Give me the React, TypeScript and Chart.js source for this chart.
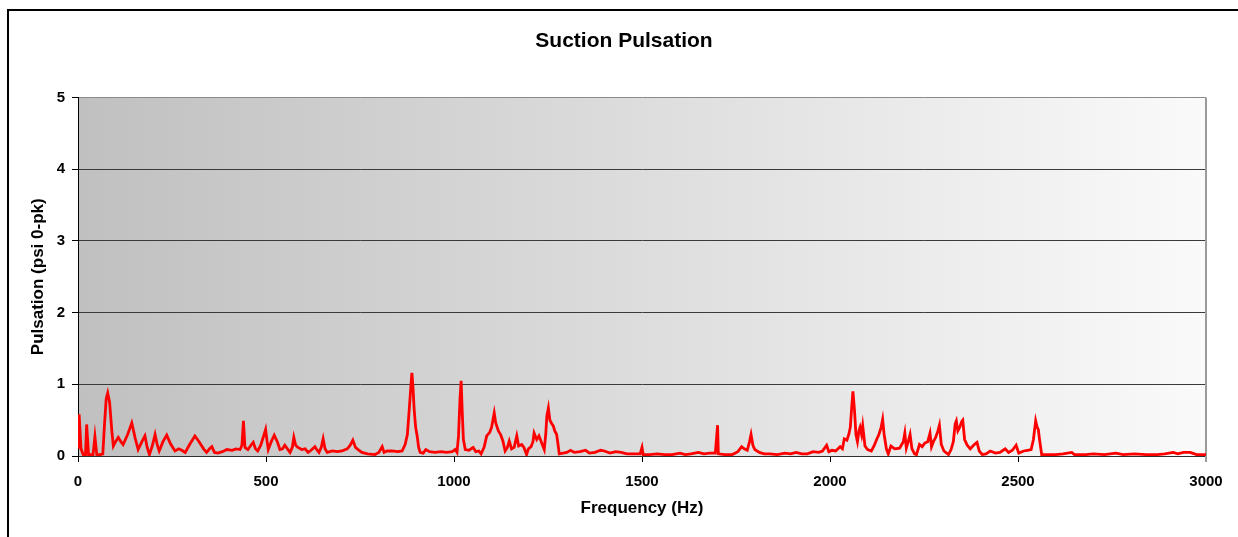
import React, { useEffect, useRef } from "react";
import { Chart, registerables } from "chart.js";

Chart.register(...registerables);

const chartTitle = "Suction Pulsation";
const xTitle = "Frequency (Hz)";
const yTitle = "Pulsation (psi 0-pk)";

const freqHz: number[] = [
  0, 3, 8, 14, 20, 23, 28, 40, 45, 50, 60, 66, 70, 75, 79, 84, 90, 94, 100, 107,
  114, 120, 132, 143, 152, 160, 170, 178, 184, 190, 198, 205, 211, 216, 226, 236, 246, 258, 268, 276,
  285, 298, 311, 322, 334, 342, 350, 356, 363, 372, 384, 396, 410, 420, 431, 436, 440, 444, 452, 460,
  466, 472, 478, 486, 495, 499, 503, 506, 514, 522, 530, 537, 544, 550, 557, 564, 570, 574, 579, 585,
  595, 604, 612, 620, 630, 636, 641, 647, 652, 657, 663, 676, 690, 702, 716, 724, 731, 738, 745, 755,
  770, 790, 800, 809, 814, 822, 835, 850, 862, 870, 876, 881, 885, 888, 891, 894, 898, 902, 906, 910,
  918, 925, 935, 950, 965, 980, 995, 1003, 1008, 1012, 1016, 1019, 1022, 1025, 1030, 1040, 1051, 1058, 1066, 1072,
  1080, 1087, 1095, 1100, 1107, 1111, 1118, 1124, 1130, 1136, 1142, 1147, 1153, 1160, 1167, 1172, 1180, 1186, 1193, 1198,
  1205, 1210, 1213, 1220, 1226, 1232, 1240, 1244, 1247, 1251, 1255, 1260, 1264, 1268, 1273, 1277, 1280, 1290, 1300, 1310,
  1320, 1335, 1350, 1360, 1375, 1390, 1400, 1415, 1430, 1445, 1460, 1480, 1495, 1500, 1503, 1520, 1540, 1560, 1580, 1601,
  1615, 1630, 1650, 1665, 1680, 1695, 1699, 1701, 1703, 1720, 1740, 1755, 1765, 1772, 1780, 1786, 1790, 1795, 1800, 1812,
  1825, 1840, 1860, 1880, 1895, 1910, 1925, 1940, 1955, 1970, 1980, 1991, 1997, 2005, 2015, 2027, 2033, 2038, 2045, 2050,
  2054, 2058, 2061, 2065, 2069, 2073, 2077, 2080, 2084, 2087, 2093, 2100, 2110, 2118, 2124, 2130, 2136, 2140, 2144, 2150,
  2155, 2162, 2172, 2185, 2195, 2199, 2203, 2208, 2213, 2218, 2225, 2230, 2238, 2245, 2252, 2260, 2266, 2270, 2275, 2281,
  2287, 2291, 2296, 2303, 2315, 2322, 2328, 2333, 2336, 2340, 2345, 2350, 2353, 2358, 2365, 2373, 2380, 2386, 2391, 2397,
  2405, 2415, 2426, 2440, 2452, 2466, 2475, 2485, 2495, 2502, 2515, 2525, 2535, 2541, 2547, 2551, 2554, 2558, 2563, 2580,
  2600, 2620, 2643, 2650, 2680, 2700, 2730, 2760, 2780, 2810, 2840, 2870, 2890, 2913, 2925, 2940, 2958, 2975, 3000,
];

const pulsation: number[] = [
  0.1, 0.58, 0.1, 0.02, 0.02, 0.44, 0.02, 0.02, 0.27, 0.02, 0.02, 0.03, 0.4, 0.8, 0.88, 0.75, 0.35, 0.14, 0.2, 0.26,
  0.2, 0.16, 0.3, 0.46, 0.25, 0.09, 0.2, 0.28, 0.12, 0.02, 0.15, 0.3, 0.15, 0.07, 0.2, 0.29, 0.17, 0.07, 0.1, 0.08,
  0.05, 0.17, 0.28, 0.2, 0.1, 0.05, 0.1, 0.13, 0.05, 0.04, 0.06, 0.09, 0.08, 0.1, 0.09, 0.15, 0.49, 0.12, 0.09, 0.15,
  0.19, 0.1, 0.07, 0.15, 0.3, 0.37, 0.2, 0.09, 0.2, 0.29, 0.2, 0.09, 0.1, 0.15, 0.1, 0.05, 0.12, 0.26, 0.15, 0.12,
  0.09, 0.1, 0.05, 0.08, 0.13, 0.08, 0.05, 0.12, 0.24, 0.1, 0.05, 0.07, 0.06, 0.07, 0.1, 0.15, 0.22, 0.12, 0.09, 0.05,
  0.03, 0.02, 0.05, 0.13, 0.05, 0.07, 0.07, 0.06, 0.07, 0.16, 0.3, 0.65, 0.95, 1.16, 0.95, 0.65, 0.4, 0.28, 0.12, 0.05,
  0.04, 0.09, 0.06, 0.05, 0.06, 0.05, 0.06, 0.09, 0.05, 0.28, 0.8, 1.05, 0.6, 0.23, 0.09, 0.08, 0.12, 0.06, 0.07, 0.03,
  0.12, 0.28, 0.33, 0.4, 0.6, 0.46, 0.35, 0.3, 0.21, 0.07, 0.12, 0.21, 0.1, 0.12, 0.28, 0.14, 0.16, 0.12, 0.02, 0.1,
  0.13, 0.2, 0.32, 0.23, 0.28, 0.2, 0.09, 0.3, 0.56, 0.67, 0.5, 0.45, 0.42, 0.35, 0.3, 0.15, 0.03, 0.04, 0.05, 0.08,
  0.05, 0.06, 0.08, 0.04, 0.05, 0.08, 0.07, 0.04, 0.06, 0.05, 0.03, 0.03, 0.03, 0.12, 0.02, 0.02, 0.03, 0.02, 0.02, 0.04,
  0.02, 0.03, 0.05, 0.03, 0.04, 0.04, 0.3, 0.43, 0.03, 0.02, 0.02, 0.06, 0.13, 0.1, 0.08, 0.2, 0.3, 0.15, 0.09, 0.05,
  0.03, 0.03, 0.02, 0.04, 0.03, 0.05, 0.03, 0.03, 0.06, 0.05, 0.07, 0.15, 0.06, 0.08, 0.07, 0.13, 0.1, 0.24, 0.22, 0.3,
  0.4, 0.7, 0.9, 0.65, 0.3, 0.2, 0.35, 0.4, 0.3, 0.42, 0.14, 0.09, 0.07, 0.15, 0.23, 0.3, 0.4, 0.51, 0.3, 0.1,
  0.03, 0.14, 0.1, 0.11, 0.2, 0.32, 0.11, 0.2, 0.3, 0.1, 0.03, 0.02, 0.16, 0.13, 0.18, 0.2, 0.32, 0.13, 0.2, 0.26,
  0.35, 0.43, 0.16, 0.07, 0.02, 0.09, 0.2, 0.45, 0.49, 0.35, 0.4, 0.48, 0.5, 0.23, 0.15, 0.1, 0.14, 0.17, 0.19, 0.07,
  0.02, 0.03, 0.07, 0.04, 0.05, 0.1, 0.05, 0.08, 0.15, 0.04, 0.07, 0.08, 0.09, 0.23, 0.49, 0.4, 0.37, 0.2, 0.02, 0.02,
  0.02, 0.03, 0.05, 0.02, 0.02, 0.03, 0.02, 0.04, 0.02, 0.03, 0.02, 0.02, 0.03, 0.05, 0.03, 0.05, 0.05, 0.02, 0.02,
];

const xMin = 0;
const xMax = 3000;
const xStep = 500;
const yMin = 0;
const yMax = 5;
const yStep = 1;

const FONT = "'Liberation Sans', Arial, Helvetica, sans-serif";

const plotDecor = {
  id: "plotDecor",
  beforeDraw(chart: any) {
    const { ctx, chartArea } = chart;
    const { left, right, top, bottom } = chartArea;
    const g = ctx.createLinearGradient(left, 0, right, 0);
    g.addColorStop(0, "#c0c0c0");
    g.addColorStop(1, "#fafafa");
    ctx.save();
    ctx.fillStyle = g;
    ctx.fillRect(left, top, right - left, bottom - top);
    ctx.restore();
  },
  beforeDatasetsDraw(chart: any) {
    const { ctx, chartArea } = chart;
    ctx.save();
    ctx.strokeStyle = "#9a9a9a";
    ctx.lineWidth = 2;
    ctx.beginPath();
    ctx.moveTo(chartArea.right, chartArea.top);
    ctx.lineTo(chartArea.right, chartArea.bottom + 6);
    ctx.stroke();
    ctx.restore();
  },
  afterDraw(chart: any) {
    const { ctx, width } = chart;
    ctx.save();
    ctx.fillStyle = "#000";
    ctx.font = `bold 21px ${FONT}`;
    ctx.textAlign = "center";
    ctx.textBaseline = "middle";
    ctx.fillText(chartTitle, width / 2 + 0.5, 30);
    ctx.restore();
  },
};

export default function App() {
  const ref = useRef<HTMLCanvasElement | null>(null);

  useEffect(() => {
    if (!ref.current) return;
    const points = freqHz.map((f, i) => ({ x: f, y: pulsation[i] }));
    const chart = new Chart(ref.current, {
      type: "line",
      data: {
        datasets: [
          {
            data: points,
            borderColor: "#ff0000",
            borderWidth: 2.8,
            pointRadius: 0,
            tension: 0,
            fill: false,
          },
        ],
      },
      options: {
        animation: false,
        responsive: false,
        events: [],
        layout: { padding: { left: 0, right: 32, top: 86.5, bottom: 0 } },
        plugins: {
          legend: { display: false },
          tooltip: { enabled: false },
          title: { display: false },
        },
        scales: {
          x: {
            type: "linear",
            min: xMin,
            max: xMax,
            afterFit: (s: any) => {
              s.height = 81;
            },
            ticks: {
              stepSize: xStep,
              color: "#000",
              font: { family: FONT, size: 15, weight: "bold" },
              padding: 10.5,
              maxRotation: 0,
              callback: (v: any) => String(v),
            },
            grid: {
              drawOnChartArea: false,
              drawTicks: true,
              tickLength: 6,
              tickColor: "#000",
            },
            border: { display: true, color: "#303030", width: 1 },
            title: {
              display: true,
              text: xTitle,
              color: "#000",
              font: { family: FONT, size: 17, weight: "bold" },
              padding: { top: 0, bottom: 18 },
            },
          },
          y: {
            type: "linear",
            min: yMin,
            max: yMax,
            afterFit: (s: any) => {
              s.width = 69;
            },
            ticks: {
              stepSize: yStep,
              color: "#000",
              font: { family: FONT, size: 15, weight: "bold" },
              padding: 7,
            },
            grid: {
              color: (c: any) => (c.tick && c.tick.value === yMax ? "#8a8a8a" : "#3a3a3a"),
              lineWidth: 1,
              drawTicks: true,
              tickLength: 6,
              tickColor: "#000",
            },
            border: { display: true, color: "#000", width: 1 },
            title: {
              display: true,
              text: yTitle,
              color: "#000",
              font: { family: FONT, size: 17, weight: "bold" },
              padding: { top: 18.8, bottom: 0 },
            },
          },
        },
      },
      plugins: [plotDecor],
    });
    return () => chart.destroy();
  }, []);

  return (
    <div
      style={{
        position: "absolute",
        left: 7,
        top: 9,
        width: 1231,
        height: 528,
        boxSizing: "border-box",
        borderLeft: "2px solid #000",
        borderTop: "2px solid #000",
        background: "#fff",
        overflow: "hidden",
      }}
    >
      <canvas ref={ref} width={1229} height={526} style={{ display: "block" }} />
    </div>
  );
}
